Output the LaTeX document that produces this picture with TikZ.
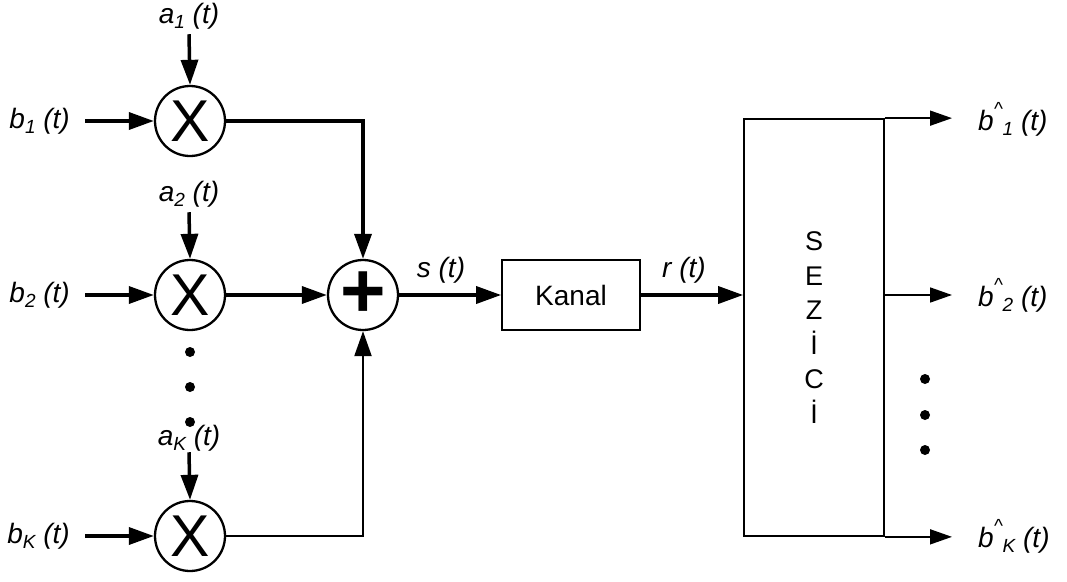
\documentclass[tikz,border=0pt]{standalone}
\usepackage{fontspec}
\setmainfont{Liberation Sans}
\usetikzlibrary{arrows.meta}
\newcommand{\sbs}[1]{\raisebox{-0.35ex}{\fontsize{19}{19}\selectfont #1}}
\newcommand{\hatmark}{\raisebox{1.0ex}{\fontsize{19}{19}\selectfont\textasciicircum}}
\begin{document}
\begin{tikzpicture}[x=1pt,y=-1pt,
  lbl/.style={font=\fontsize{28}{32}\selectfont\itshape, inner sep=0pt},
  mult/.style={circle,draw,line width=2.3pt,minimum size=70pt,inner sep=0pt,font=\fontsize{59}{59}\selectfont},
  thk/.style={line width=3.5pt,-{Triangle[length=25pt,width=17pt]}},
  mid/.style={line width=2.2pt,-{Triangle[length=25pt,width=17pt]}},
  thn/.style={line width=1.7pt,-{Triangle[length=22pt,width=15pt]}},
  blk/.style={draw,line width=1.7pt,inner sep=0pt,font=\fontsize{28}{32}\selectfont},
  dot/.style={circle,fill,inner sep=0pt,minimum size=10pt}]
\useasboundingbox (0,0) rectangle (1067,581);

% multipliers and adder
\node[mult] (m1) at (190,121) {X};
\node[mult] (m2) at (190,295) {X};
\node[mult] (mK) at (190,536) {X};
\node[mult,font=\fontsize{78}{78}\selectfont\bfseries] (plus) at (363,295) {+};

% input labels
\node[lbl,anchor=east] (b1) at (70,121) {b\sbs{1} (t)};
\node[lbl,anchor=east] (b2) at (70,295) {b\sbs{2} (t)};
\node[lbl,anchor=east] (bK) at (70,536) {b\sbs{K} (t)};
\node[lbl] (a1) at (189,16) {a\sbs{1} (t)};
\node[lbl] (a2) at (189,194) {a\sbs{2} (t)};
\node[lbl] (aK) at (189,438) {a\sbs{K} (t)};

% dots
\node[dot] (d1) at (190,352) {};
\node[dot] (d2) at (190,387) {};
\node[dot] (d3) at (190,422) {};

% channel and detector
\node[blk,minimum width=138pt,minimum height=70pt] (kanal) at (571,295) {Kanal};
\node[blk,minimum width=140pt,minimum height=417pt,align=center,
      font=\fontsize{27}{34.6}\selectfont] (sez) at (814,327.5) {S\\E\\Z\\İ\\C\\İ};

\node[lbl] (s) at (441,270) {s (t)};
\node[lbl] (r) at (684,270) {r (t)};

% outputs
\node[lbl,anchor=west] (o1) at (978,119) {b\hatmark\sbs{1} (t)};
\node[lbl,anchor=west] (o2) at (978,295) {b\hatmark\sbs{2} (t)};
\node[lbl,anchor=west] (oK) at (978,536) {b\hatmark\sbs{K} (t)};
\node[dot] (e1) at (925,379) {};
\node[dot] (e2) at (925,415) {};
\node[dot] (e3) at (925,450) {};

% connectors
\draw[thk] ([xshift=15pt]b1.east) -- (m1.west);
\draw[thk] ([xshift=15pt]b2.east) -- (m2.west);
\draw[thk] ([xshift=15pt]bK.east) -- (mK.west);
\draw[thk] ([yshift=-5pt]a1.south) -- (m1.north);
\draw[thk] ([yshift=-5pt]a2.south) -- (m2.north);
\draw[thk] ([yshift=-1pt]aK.south) -- (mK.north);

\draw[thk] (m1.east) -| (plus.north);
\draw[thk] (m2.east) -- (plus.west);
\draw[mid] (mK.east) -| (plus.south);
\draw[thk] (plus.east) -- (kanal.west);
\draw[thk] (kanal.east) -- (kanal.east -| sez.west);

\draw[thn] (sez.north east) -- ([xshift=-26pt]o1.west |- sez.north east);
\draw[thn] (sez.east |- o2) -- ([xshift=-26pt]o2.west);
\draw[thn] (sez.south east) -- ([xshift=-26pt]oK.west |- sez.south east);
\end{tikzpicture}
\end{document}
